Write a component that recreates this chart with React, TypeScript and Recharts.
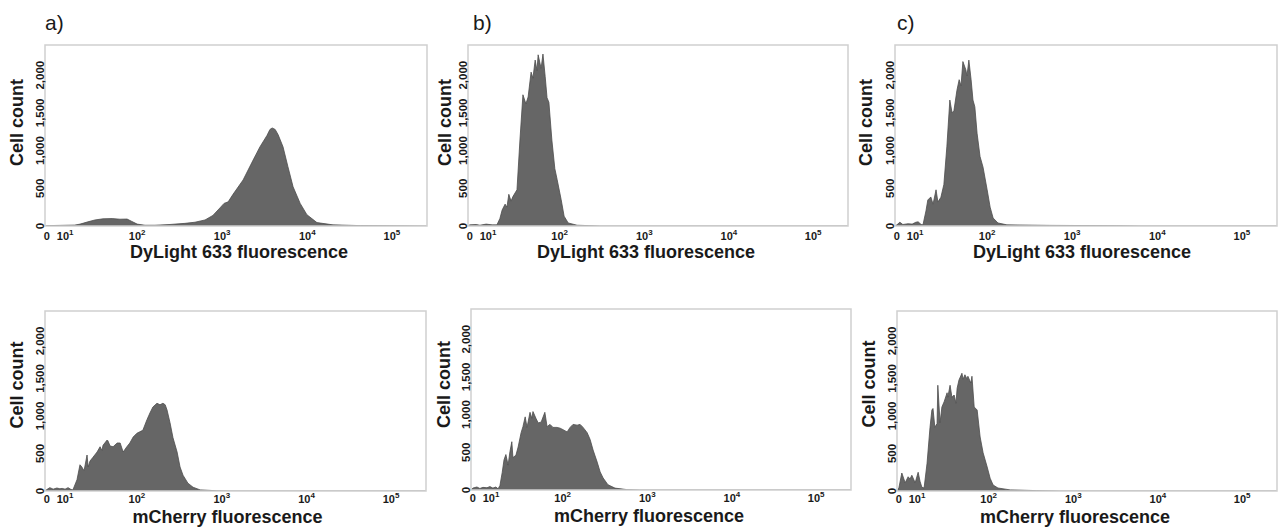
import React from 'react';
import { AreaChart, Area, XAxis, YAxis, ReferenceArea } from 'recharts';

// x values are display channels (0-1024) on the biexponential axis
const tickChannels = [5, 54, 247, 475, 703, 930];
const tickExponents = [null, 1, 2, 3, 4, 5];
const countTicks = [0, 500, 1000, 1500, 2000];

// a) DyLight 633
const aDyCh = [0, 5, 40, 80, 94, 115, 134, 155, 180, 201, 220, 233, 247, 268, 295, 335, 375, 402, 429, 450, 469, 480, 491, 504, 531, 558, 576, 595, 603, 609, 617, 625, 638, 651, 665, 684, 702, 729, 772, 845, 952, 1024];
const aDyCount = [0, 5, 8, 12, 25, 55, 80, 95, 98, 90, 92, 60, 25, 10, 10, 20, 35, 50, 80, 140, 240, 300, 320, 420, 610, 875, 1048, 1200, 1280, 1300, 1280, 1210, 1050, 790, 520, 300, 150, 45, 15, 5, 2, 0];

// b) DyLight 633
const bDyCh = [0, 5, 22, 32, 49, 65, 78, 86, 92, 100, 105, 110, 116, 121, 132, 140, 148, 156, 162, 170, 175, 181, 186, 189, 197, 202, 208, 213, 218, 226, 234, 240, 251, 259, 270, 294, 356, 1024];
const bDyCount = [0, 15, 20, 10, 25, 15, 15, 100, 212, 290, 250, 420, 330, 390, 480, 1140, 1740, 1620, 1710, 2040, 1960, 2200, 2060, 2270, 2090, 2280, 1980, 1700, 1640, 1140, 760, 620, 350, 130, 40, 10, 0, 0];

// c) DyLight 633
const cDyCh = [0, 5, 13, 21, 35, 46, 56, 62, 70, 75, 83, 88, 96, 102, 110, 115, 123, 131, 139, 147, 153, 158, 166, 172, 177, 182, 190, 193, 198, 204, 209, 214, 220, 228, 236, 247, 255, 263, 276, 300, 415, 595, 657, 1024];
const cDyCount = [0, 15, 50, 20, 30, 25, 50, 55, 20, 15, 200, 345, 385, 290, 480, 318, 380, 550, 1050, 1670, 1500, 1530, 1800, 1940, 1860, 2180, 2070, 1990, 2200, 1940, 1670, 1580, 1230, 920, 780, 480, 250, 106, 40, 15, 8, 4, 0, 0];

// a) mCherry
const aMcCh = [0, 5, 13, 22, 32, 40, 46, 54, 62, 70, 75, 86, 94, 99, 105, 113, 116, 121, 129, 140, 148, 153, 156, 167, 169, 175, 183, 194, 202, 210, 220, 228, 237, 247, 255, 263, 274, 282, 290, 301, 309, 317, 323, 328, 336, 344, 355, 363, 371, 384, 398, 417, 462, 497, 1024];
const aMcCount = [0, 20, 45, 25, 40, 30, 35, 25, 45, 20, 15, 150, 350, 320, 270, 480, 320, 400, 450, 520, 590, 540, 610, 680, 670, 600, 590, 640, 640, 520, 590, 640, 720, 770, 790, 810, 950, 1040, 1120, 1170, 1150, 1170, 1150, 1080, 910, 710, 520, 320, 210, 105, 50, 15, 3, 0, 0];

// b) mCherry
const bMcCh = [0, 5, 16, 24, 32, 43, 51, 59, 67, 73, 78, 84, 89, 94, 100, 105, 110, 113, 121, 127, 135, 140, 146, 151, 159, 164, 167, 175, 181, 189, 199, 205, 213, 221, 232, 240, 248, 259, 267, 275, 286, 294, 302, 313, 321, 329, 340, 348, 356, 369, 388, 420, 455, 1024];
const bMcCount = [0, 25, 40, 20, 35, 30, 45, 25, 40, 15, 60, 230, 400, 470, 330, 510, 640, 430, 460, 570, 760, 840, 970, 830, 1030, 950, 1040, 950, 890, 900, 1030, 840, 870, 830, 830, 820, 800, 770, 830, 870, 860, 870, 830, 760, 670, 530, 370, 240, 160, 70, 25, 5, 0, 0];

// c) mCherry
const cMcCh = [0, 5, 13, 22, 30, 35, 40, 49, 57, 62, 67, 73, 81, 89, 94, 97, 102, 108, 110, 116, 121, 127, 135, 137, 143, 148, 154, 159, 162, 167, 175, 178, 183, 189, 191, 199, 202, 208, 216, 224, 232, 243, 251, 259, 272, 305, 377, 439, 1024];
const cMcCount = [0, 40, 240, 110, 190, 160, 210, 110, 250, 130, 50, 40, 370, 850, 1080, 1100, 850, 900, 1410, 910, 1120, 1190, 1310, 1250, 1410, 1250, 1280, 1170, 1370, 1480, 1570, 1490, 1550, 1490, 1530, 1440, 1530, 1120, 1080, 720, 510, 320, 170, 80, 40, 15, 5, 0, 0];

const FONT = '"Liberation Sans", Arial, sans-serif';
const TEXT = '#1a1a1a';

const toRows = (ch: number[], count: number[]) => ch.map((c, i) => ({ ch: c, count: count[i] }));

const XTick = (props: any) => {
  const { x, y, payload, lift } = props;
  const idx = tickChannels.indexOf(payload.value);
  const exp = tickExponents[idx];
  return (
    <text x={x} y={y + lift} textAnchor="middle" fontFamily={FONT} fontSize={11} fontWeight="bold" fill={TEXT}>
      {exp == null ? '0' : (
        <>
          10<tspan dy={-5} fontSize={8}>{exp}</tspan>
        </>
      )}
    </text>
  );
};

// the source image is stretched vertically, so the rotated tick text is too
const YTick = (props: any) => {
  const { x, y, payload } = props;
  const bx = x - 1;
  return (
    <text transform={`translate(${bx} ${y}) rotate(-90) scale(1.15 1)`} x={0} y={0} textAnchor="middle" fontFamily={FONT} fontSize={10} fontWeight="bold" fill={TEXT}>
      {payload.value.toLocaleString('en-US')}
    </text>
  );
};

const YTitle = (props: any) => {
  const { cx, cy, letter, letterX } = props;
  return (
    <g>
      <text x={cx} y={cy} transform={`rotate(-90 ${cx} ${cy})`} textAnchor="middle" fontFamily={FONT} fontSize={18} fontWeight="bold" fill={TEXT}>
        Cell count
      </text>
      {letter && (
        <text x={letterX} y={30} fontFamily={FONT} fontSize={21} fill={TEXT}>{letter}</text>
      )}
    </g>
  );
};

const XTitle = (props: any) => {
  const { cx, by, title } = props;
  return (
    <text x={cx} y={by} textAnchor="middle" fontFamily={FONT} fontSize={18} fontWeight="bold" fill={TEXT}>
      {title}
    </text>
  );
};

interface PanelProps {
  ch: number[];
  count: number[];
  left: number;
  top: number;
  w: number;
  h: number;
  title: string;
  titleShift: number;
  labelDx: number;
  labelShift: number;
  tickLift: number;
  letter?: string;
  letterX?: number;
}

function Panel({ ch, count, left, top, w, h, title, titleShift, labelDx, labelShift, tickLift, letter, letterX }: PanelProps) {
  const data = toRows(ch, count);
  return (
    <div style={{ position: 'absolute', left: left - 45, top: top - 45 }}>
      <AreaChart width={w + 48} height={h + 89} data={data} margin={{ top: 45, right: 3, bottom: 4, left: 0 }}>
        <XAxis
          dataKey="ch"
          type="number"
          domain={[0, 1024]}
          ticks={tickChannels}
          interval={0}
          axisLine={false}
          tickLine={false}
          tickSize={0}
          tickMargin={0}
          height={40}
          tick={<XTick lift={tickLift} />}
          label={<XTitle cx={45 + w / 2 + titleShift} by={45 + h + 32} title={title} />}
        />
        <YAxis
          type="number"
          domain={[0, 2400]}
          allowDataOverflow
          ticks={countTicks}
          interval={0}
          axisLine={false}
          tickLine={false}
          tickSize={0}
          tickMargin={0}
          width={45}
          tick={<YTick />}
          label={<YTitle cx={45 + labelDx + 6} cy={45 + h / 2 + labelShift} letter={letter} letterX={letterX} />}
        />
        <Area
          type="linear"
          dataKey="count"
          fill="#666666"
          fillOpacity={1}
          stroke="#4d4d4d"
          strokeWidth={0.8}
          dot={false}
          activeDot={false}
          isAnimationActive={false}
        />
        <ReferenceArea x1={0} x2={1024} y1={0} y2={2400} fill="none" stroke="#d0d0d0" strokeWidth={1.5} ifOverflow="visible" />
      </AreaChart>
    </div>
  );
}

export default function App() {
  return (
    <div style={{ position: 'absolute', left: 0, top: 0, width: 1281, height: 530, background: '#fff', fontFamily: FONT }}>
      <Panel ch={aDyCh} count={aDyCount} left={45} top={45} w={382} h={181} title="DyLight 633 fluorescence" titleShift={3} labelDx={-28} labelShift={-13} tickLift={14} letter="a)" letterX={45} />
      <Panel ch={bDyCh} count={bDyCount} left={468} top={45} w={380} h={181} title="DyLight 633 fluorescence" titleShift={-12} labelDx={-23} labelShift={-13} tickLift={14} letter="b)" letterX={50} />
      <Panel ch={cDyCh} count={cDyCount} left={895} top={45} w={382} h={181} title="DyLight 633 fluorescence" titleShift={-4} labelDx={-29} labelShift={-13} tickLift={14} letter="c)" letterX={47} />
      <Panel ch={aMcCh} count={aMcCount} left={45} top={311} w={381} h={180} title="mCherry fluorescence" titleShift={-8} labelDx={-28} labelShift={-16} tickLift={12} />
      <Panel ch={bMcCh} count={bMcCount} left={471} top={309} w={380} h={181} title="mCherry fluorescence" titleShift={-12} labelDx={-27} labelShift={-15} tickLift={12} />
      <Panel ch={cMcCh} count={cMcCount} left={897} top={311} w={380} h={180} title="mCherry fluorescence" titleShift={-12} labelDx={-28} labelShift={-17} tickLift={12} />
    </div>
  );
}
